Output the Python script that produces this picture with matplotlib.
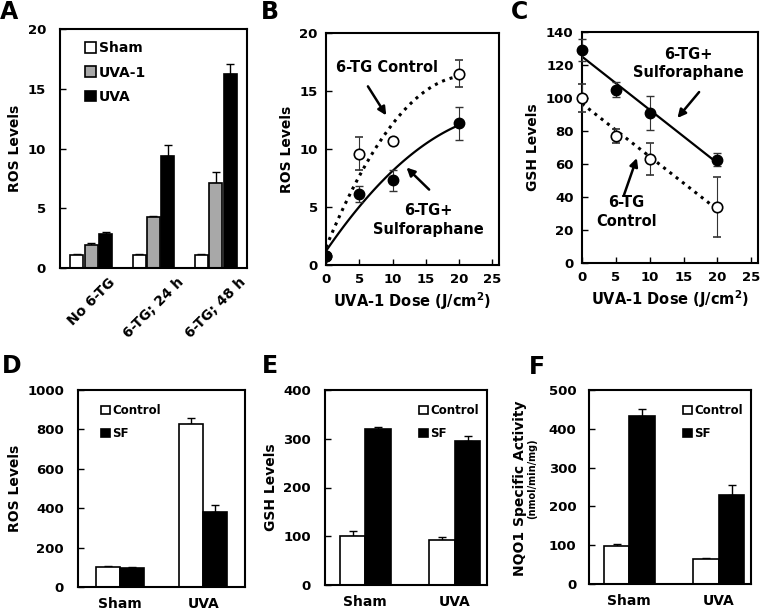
import matplotlib.pyplot as plt
import numpy as np

plt.rcParams["font.family"] = ["DejaVu Sans"]
plt.rcParams["font.weight"] = "bold"

# Panel A
a_groups = ["No 6-TG", "6-TG; 24 h", "6-TG; 48 h"]
a_sham = [1.05, 1.05, 1.05]
a_sham_err = [0.08, 0.08, 0.08]
a_uva1 = [1.95, 4.25, 7.15]
a_uva1_err = [0.12, 0.12, 0.88]
a_uva = [2.85, 9.4, 16.2]
a_uva_err = [0.2, 0.88, 0.85]

# Panel B (ROS vs dose)
dose = [0, 5, 10, 20]
b_ctrl = [0.8, 9.6, 10.7, 16.5]
b_ctrl_err = [0.1, 1.4, 0.25, 1.15]
b_sf = [0.8, 6.1, 7.3, 12.2]
b_sf_err = [0.1, 0.7, 0.9, 1.4]

# Panel C (GSH vs dose)
c_ctrl = [100, 77, 63, 34]
c_ctrl_err = [8.5, 4.5, 9.5, 18]
c_sf = [129, 105, 91, 62.5]
c_sf_err = [6.8, 4.5, 10.5, 4]

# Panels D-F
def_groups = ["Sham", "UVA"]
d_ctrl = [101, 828]
d_ctrl_err = [6, 32]
d_sf = [94, 380]
d_sf_err = [9, 38]
e_ctrl = [101, 93]
e_ctrl_err = [9, 5]
e_sf = [319, 295]
e_sf_err = [5, 10]
f_ctrl = [97, 64]
f_ctrl_err = [7, 3]
f_sf = [432, 230]
f_sf_err = [18, 25]

W, H = 760, 612
fig = plt.figure(figsize=(7.6, 6.12), dpi=100)


def add_axes(l, r, t, b):
    return fig.add_axes([l / W, 1 - b / H, (r - l) / W, (b - t) / H])


def style(ax, pad=6):
    for s in ax.spines.values():
        s.set_linewidth(1.5)
    ax.tick_params(direction="in", length=4, width=1, labelsize=9.5, pad=pad)
    for lab in ax.get_yticklabels() + ax.get_xticklabels():
        lab.set_fontweight("bold")


def up_err(ax, x, y, err):
    ax.errorbar(x, y, yerr=[np.zeros(len(err)), err], fmt="none", ecolor="black",
                elinewidth=1, capsize=3, capthick=1, zorder=1)


arrow = dict(arrowstyle="-|>", color="black", lw=1.8, mutation_scale=12, shrinkA=0, shrinkB=0)

# ---- A ----
ax = add_axes(60, 247, 29, 268)
x = np.arange(len(a_groups))
off = 0.23
bw = 0.21
for dx, vals, errs, col, lab in [(-off, a_sham, a_sham_err, "white", "Sham"),
                                 (0, a_uva1, a_uva1_err, "#a8a8a8", "UVA-1"),
                                 (off, a_uva, a_uva_err, "black", "UVA")]:
    ax.bar(x + dx, vals, bw, color=col, edgecolor="black", linewidth=1.2, label=lab, zorder=2)
    up_err(ax, x + dx, vals, errs)
ax.set_xlim(-0.5, 2.5)
ax.set_ylim(0, 20)
ax.set_yticks([0, 5, 10, 15, 20])
ax.set_xticks(x)
ax.set_xticklabels(a_groups, rotation=45, ha="center", va="top", fontsize=10)
ax.set_ylabel("ROS Levels", fontsize=10, fontweight="bold", labelpad=4)
style(ax, pad=10)
ax.tick_params(axis="x", length=0, pad=5, labelsize=10)
ax.legend(loc="upper left", bbox_to_anchor=(0.08, 0.99), frameon=False, fontsize=10,
          handlelength=0.8, handleheight=0.8, handletextpad=0.2, labelspacing=0.75,
          borderpad=0.2)

# ---- B ----
ax = add_axes(326, 499, 33, 265)
xs = np.linspace(0, 20, 100)
ax.plot(xs, np.polyval(np.polyfit(dose, b_ctrl, 2), xs), color="black", ls=(0, (1, 1.6)), lw=2.2)
ax.plot(xs, np.polyval(np.polyfit(dose, b_sf, 2), xs), color="black", lw=1.6)
ax.errorbar(dose, b_ctrl, yerr=b_ctrl_err, fmt="o", mfc="white", mec="black", mew=1.2,
            ms=7.5, ecolor="#333333", elinewidth=0.8, capsize=3, zorder=3)
ax.errorbar(dose, b_sf, yerr=b_sf_err, fmt="o", mfc="black", mec="black",
            ms=7.5, ecolor="#333333", elinewidth=0.8, capsize=3, zorder=4)
ax.set_xlim(0, 26)
ax.set_ylim(0, 20)
ax.set_xticks([0, 5, 10, 15, 20, 25])
ax.set_yticks([0, 5, 10, 15, 20])
ax.set_ylabel("ROS Levels", fontsize=10, fontweight="bold", labelpad=4)
ax.set_xlabel("UVA-1 Dose (J/cm$^\\mathbf{2}$)", fontsize=10.5, fontweight="bold", labelpad=3)
style(ax, pad=6)
ax.annotate("", xy=(9.05, 12.9), xytext=(6.3, 15.4), arrowprops=arrow)
ax.text(9.1, 17.0, "6-TG Control", ha="center", va="center", fontsize=10.5, fontweight="bold")
ax.annotate("", xy=(12.1, 8.4), xytext=(15.5, 6.5), arrowprops=arrow)
ax.text(15.4, 3.9, "6-TG+\nSulforaphane", ha="center", va="center", fontsize=10.5,
        fontweight="bold", linespacing=1.3)

# ---- C ----
ax = add_axes(582, 758, 32, 263)
xs = np.array([0, 20])
ax.plot(xs, np.polyval(np.polyfit(dose, c_ctrl, 1), xs), color="black", ls=(0, (1, 1.6)), lw=2.2)
ax.plot(xs, np.polyval(np.polyfit(dose, c_sf, 1), xs), color="black", lw=1.6)
ax.errorbar(dose, c_ctrl, yerr=c_ctrl_err, fmt="o", mfc="white", mec="black", mew=1.2,
            ms=7.5, ecolor="#333333", elinewidth=0.8, capsize=3, zorder=3, clip_on=False)
ax.errorbar(dose, c_sf, yerr=c_sf_err, fmt="o", mfc="black", mec="black",
            ms=7.5, ecolor="#333333", elinewidth=0.8, capsize=3, zorder=4, clip_on=False)
ax.set_xlim(0, 26)
ax.set_ylim(0, 140)
ax.set_xticks([0, 5, 10, 15, 20, 25])
ax.set_yticks(range(0, 141, 20))
ax.set_ylabel("GSH Levels", fontsize=10, fontweight="bold", labelpad=4)
ax.set_xlabel("UVA-1 Dose (J/cm$^\\mathbf{2}$)", fontsize=10.5, fontweight="bold", labelpad=3)
style(ax, pad=6)
ax.annotate("", xy=(14.1, 87.9), xytext=(17.3, 103.6), arrowprops=arrow)
ax.text(15.7, 121, "6-TG+\nSulforaphane", ha="center", va="center", fontsize=10.5,
        fontweight="bold", linespacing=1.3)
ax.annotate("", xy=(8.1, 63.6), xytext=(6.2, 41.2), arrowprops=arrow)
ax.text(6.6, 31, "6-TG\nControl", ha="center", va="center", fontsize=10.5,
        fontweight="bold", linespacing=1.3)


# ---- D-F ----
def pair_panel(box, ctrl, ctrl_err, sf, sf_err, ymax, step, ylabel, xlim, leg_anchor,
               leg_loc, ypad):
    ax = add_axes(*box)
    x = np.arange(len(def_groups))
    bw2 = 0.285
    ax.bar(x - bw2 / 2, ctrl, bw2, color="white", edgecolor="black", linewidth=1.2,
           label="Control", zorder=2)
    ax.bar(x + bw2 / 2, sf, bw2, color="black", edgecolor="black", linewidth=1.2,
           label="SF", zorder=2)
    up_err(ax, x - bw2 / 2, ctrl, ctrl_err)
    up_err(ax, x + bw2 / 2, sf, sf_err)
    ax.set_xlim(*xlim)
    ax.set_ylim(0, ymax)
    ax.set_yticks(np.arange(0, ymax + 1, step))
    ax.set_xticks(x)
    ax.set_xticklabels(def_groups, fontsize=10)
    if ylabel:
        ax.set_ylabel(ylabel, fontsize=10, fontweight="bold", labelpad=4)
    style(ax, pad=ypad)
    ax.tick_params(axis="x", length=0, pad=7, labelsize=10)
    ax.legend(loc=leg_loc, bbox_to_anchor=leg_anchor, frameon=False, fontsize=8.5,
              handlelength=0.7, handleheight=0.7, handletextpad=0.2, labelspacing=0.85,
              borderpad=0.2)
    return ax


pair_panel((78, 245, 390, 587), d_ctrl, d_ctrl_err, d_sf, d_sf_err, 1000, 200, "ROS Levels",
           (-0.5, 1.5), (0.09, 0.97), "upper left", 10)
pair_panel((325, 487, 390, 585), e_ctrl, e_ctrl_err, e_sf, e_sf_err, 400, 100, "GSH Levels",
           (-0.45, 1.36), (1.0, 0.97), "upper right", 10)
pair_panel((589, 751, 390, 584), f_ctrl, f_ctrl_err, f_sf, f_sf_err, 500, 100, None,
           (-0.45, 1.36), (1.0, 0.97), "upper right", 9)
fig.text(520 / W, 1 - 488 / H, "NQO1 Specific Activity", rotation=90, ha="center", va="center",
         fontsize=10, fontweight="bold")
fig.text(532 / W, 1 - 479 / H, "(nmol/min/mg)", rotation=90, ha="center", va="center",
         fontsize=7, fontweight="bold")

# panel letters
for lab, px, py in [("A", 9, 12), ("B", 270, 12), ("C", 520, 12),
                    ("D", 12, 366), ("E", 270, 366), ("F", 537, 367)]:
    fig.text(px / W, 1 - py / H, lab, ha="center", va="center", fontsize=17, fontweight="bold")

fig.savefig("out.png", dpi=100)
